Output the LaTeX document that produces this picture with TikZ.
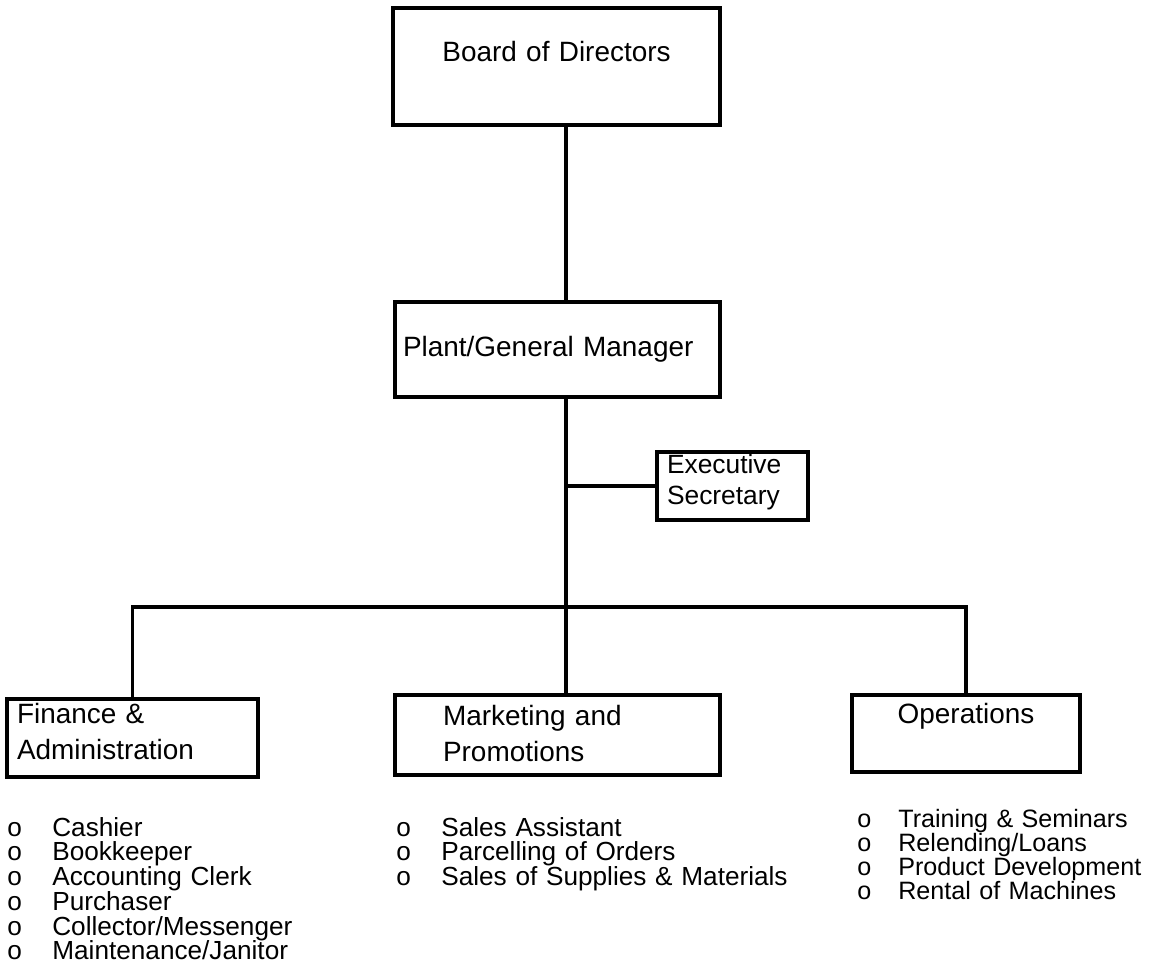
\documentclass[tikz,border=0pt]{standalone}
\usepackage{fontspec}
\setmainfont{Liberation Sans}
\setlength{\lineskiplimit}{-5pt}
\newcommand{\itm}[2][0.9cm]{\makebox[#1][l]{o}#2}

\begin{document}
\begin{tikzpicture}[x=0.02cm, y=-0.02cm, box style/.style={draw, rectangle, line width=2.2pt, inner sep=0pt, font=\fontsize{15.9}{21}\selectfont}, list style/.style={anchor=base west, inner sep=0pt, align=left, text width=10cm, font=\fontsize{14.9}{14.1}\selectfont}, link/.style={line width=1.8pt}]
	\useasboundingbox (0,0) rectangle (1151,979);
	\node[box style, text width=6.54cm, align=center, text height=1.08cm, text depth=1.26cm] (S1) at (556.5,66.5) {Board of Directors};
	\node[box style, inner xsep=0.16cm, text width=6.18cm, align=left, text height=1.1cm, text depth=0.8cm] (S2) at (557.5,349.5) {Plant/General Manager};
	\node[box style, inner xsep=0.2cm, text width=2.62cm, align=left, text height=0.42cm, text depth=0.94cm, font=\fontsize{15}{18.2}\selectfont] (S3) at (732.5,486) {Executive\\Secretary};
	\node[box style, inner xsep=0.2cm, text width=4.62cm, align=left, text height=0.48cm, text depth=1.08cm] (S4) at (132.5,738) {Finance \&\\Administration};
	\node[box style, inner xsep=0.96cm, text width=4.58cm, align=left, text height=0.6cm, text depth=1.0cm] (S5) at (557.5,735) {Marketing and\\Promotions};
	\node[box style, text width=4.56cm, align=center, text height=0.56cm, text depth=0.98cm] (S6) at (966,733.5) {Operations};
	\node[list style] (L1) at (7,836) {\itm{Cashier}\\\itm{Bookkeeper}\\\itm{Accounting Clerk}\\\itm{Purchaser}\\\itm{Collector/Messenger}\\\itm{Maintenance/Janitor}};
	\node[list style] (L2) at (396,836) {\itm{Sales Assistant}\\\itm{Parcelling of Orders}\\\itm{Sales of Supplies \& Materials}};
	\node[list style, text width=6cm, font=\fontsize{14.3}{13.7}\selectfont] (L3) at (857,827) {\itm[0.82cm]{Training \& Seminars}\\\itm[0.82cm]{Relending/Loans}\\\itm[0.82cm]{Product Development}\\\itm[0.82cm]{Rental of Machines}};
	\coordinate (J) at (566,607);
	\draw[link] (S1.south -| J) -- (S2.north -| J);
	\draw[link] (S2.south -| J) -- (J);
	\draw[link] (S3.west) -- (S3.west -| J);
	\draw[link] (S4.north) |- (S6.north |- J) -- (S6.north);
	\draw[link] (J) -- (S5.north -| J);
\end{tikzpicture}
\end{document}
